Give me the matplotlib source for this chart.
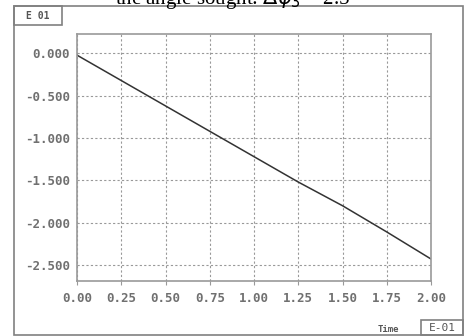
import numpy as np
import matplotlib
matplotlib.use("Agg")
import matplotlib.pyplot as plt
from matplotlib.patches import Rectangle

# data
time = [0.00, 0.25, 0.50, 0.75, 1.00, 1.25, 1.50, 1.75, 2.00]
value = [-0.02, -0.32, -0.62, -0.92, -1.22, -1.52, -1.80, -2.11, -2.43]
xticks = [0.00, 0.25, 0.50, 0.75, 1.00, 1.25, 1.50, 1.75, 2.00]
yticks = [0.0, -0.5, -1.0, -1.5, -2.0, -2.5]

W, H = 465, 336
fig = plt.figure(figsize=(W / 100, H / 100), dpi=100)
fig.patch.set_facecolor("white")


def fx(px):
    return px / W


def fy(py):
    return 1 - py / H


gray = "#707070"
mono = "DejaVu Sans Mono"

# outer frame
fig.patches.append(Rectangle((fx(14), fy(335)), fx(463) - fx(14), fy(6) - fy(335),
                             transform=fig.transFigure, fill=False,
                             edgecolor="#808080", lw=1.2))
# "E 01" box
fig.patches.append(Rectangle((fx(14), fy(25)), fx(62) - fx(14), fy(6) - fy(25),
                             transform=fig.transFigure, fill=False,
                             edgecolor="#808080", lw=1.2))
fig.text(fx(38), fy(16), "E 01", ha="center", va="center", fontsize=7,
         family=mono, color="#555555", weight="bold")
# "E-01" box bottom right
fig.patches.append(Rectangle((fx(421), fy(335)), fx(463) - fx(421), fy(320) - fy(335),
                             transform=fig.transFigure, fill=False,
                             edgecolor="#808080", lw=1.2))
fig.text(fx(442), fy(328), "E-01", ha="center", va="center", fontsize=8,
         family=mono, color="#555555")
fig.text(fx(388), fy(330), "Time", ha="center", va="center", fontsize=6.5,
         family=mono, color="#555555", weight="bold")

# caption from the surrounding page, clipped at the top as in the source
fig.text(fx(233), fy(4), r"the angle sought: $\Delta\varphi_3$ = 2.5", ha="center",
         va="baseline", fontsize=15, family="Liberation Serif", color="black")

ax = fig.add_axes([fx(77), fy(281), fx(431) - fx(77), fy(34) - fy(281)])
ax.plot(time, value, color="#333333", lw=1.1)
ax.set_xlim(0, 2.0)
ax.set_ylim(-2.69, 0.23)
ax.set_xticks(xticks)
ax.set_yticks(yticks)
ax.set_xticklabels([f"{t:.2f}" for t in xticks])
ax.set_yticklabels([f"{v:.3f}" for v in yticks])
ax.grid(True, color="#999999", ls=(0, (2, 2)), lw=0.8)
for s in ax.spines.values():
    s.set_color("#9a9a9a")
    s.set_linewidth(1.2)
ax.tick_params(axis="x", length=3, color="#999999", pad=5, labelsize=9,
               labelcolor=gray)
ax.tick_params(axis="y", length=0, pad=5, labelsize=9, labelcolor=gray)
for lab in ax.get_xticklabels() + ax.get_yticklabels():
    lab.set_family(mono)
    lab.set_weight("bold")

fig.savefig("out.png", dpi=100)
